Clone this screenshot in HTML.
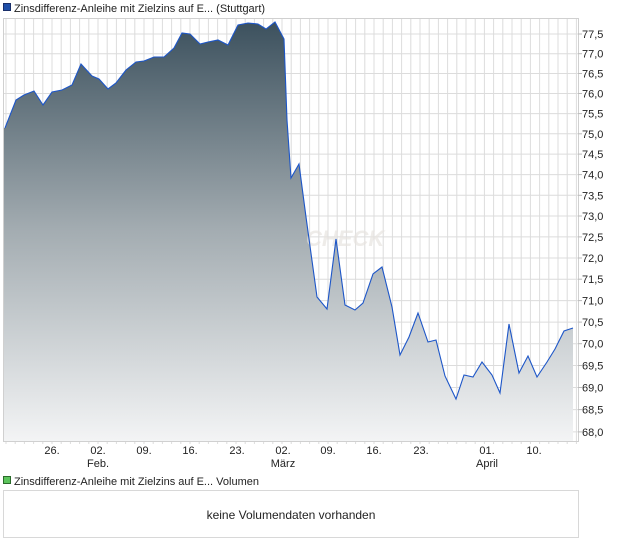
<!DOCTYPE html>
<html><head><meta charset="utf-8"><style>
html,body{margin:0;padding:0;background:#fff;}
svg{display:block;font-family:"Liberation Sans",Arial,sans-serif;}
</style></head><body>
<svg width="620" height="546" viewBox="0 0 620 546" xmlns="http://www.w3.org/2000/svg">
<defs>
<linearGradient id="g" x1="0" y1="18" x2="0" y2="441" gradientUnits="userSpaceOnUse">
<stop offset="0" stop-color="#3a4f5c"/>
<stop offset="0.5" stop-color="#a3acb1"/>
<stop offset="1" stop-color="#f3f4f5"/>
</linearGradient>
</defs>
<rect x="0" y="0" width="620" height="546" fill="#fff"/>
<!-- legend -->
<rect x="3.5" y="3.5" width="7" height="7" fill="#1f4fa8" stroke="#1a2f6a"/>
<text x="14" y="12" font-size="11" fill="#222">Zinsdifferenz-Anleihe mit Zielzins auf E... (Stuttgart)</text>
<!-- grid -->
<g stroke="#dcdcdc" stroke-width="1">
<path id="vg" d=""/>
</g>
<g id="grid" stroke="#dcdcdc" stroke-width="1"></g>
<!-- area -->
<path id="area" fill="url(#g)" d=""/>
<text x="306" y="246" font-size="22" font-weight="bold" font-style="italic" fill="#e8e4e0" opacity="0.7">CHECK</text>
<path id="line" fill="none" stroke="#1d56c8" stroke-width="1.1" d=""/>
<!-- frame -->
<rect x="3.5" y="18.5" width="575" height="423" fill="none" stroke="#d0d0d0"/>
<g id="yl" font-size="11" fill="#222"></g>
<g font-size="11" fill="#222" text-anchor="middle">
<text x="52" y="454">26.</text>
<text x="98" y="454">02.</text>
<text x="98" y="467">Feb.</text>
<text x="144" y="454">09.</text>
<text x="190" y="454">16.</text>
<text x="237" y="454">23.</text>
<text x="283" y="454">02.</text>
<text x="283" y="467">März</text>
<text x="328" y="454">09.</text>
<text x="374" y="454">16.</text>
<text x="421" y="454">23.</text>
<text x="487" y="454">01.</text>
<text x="487" y="467">April</text>
<text x="534" y="454">10.</text>
</g>
<!-- volume -->
<rect x="3.5" y="115.5" width="0" height="0" fill="none"/>
<rect x="3.5" y="476.5" width="7" height="7" fill="#5cc45c" stroke="#2a6a2a"/>
<text x="14" y="485" font-size="11" fill="#222">Zinsdifferenz-Anleihe mit Zielzins auf E... Volumen</text>
<rect x="3.5" y="490.5" width="575" height="47" fill="#fff" stroke="#d8d8d8"/>
<text x="291" y="519" font-size="12" fill="#222" text-anchor="middle">keine Volumendaten vorhanden</text>
<script>
(function(){
var ns="http://www.w3.org/2000/svg";
function Y(v){return 34+3043*Math.log(77.5/v);}
var g=document.getElementById("grid"),yl=document.getElementById("yl");
var d="";
for(var x=52-9.2*5;x<578;x+=9.2){if(x>4){d+="M"+x.toFixed(1)+" 19V441";}}
for(var v=68;v<=77.51;v+=0.5){var y=Y(v).toFixed(1);d+="M4 "+y+"H578";
var t=document.createElementNS(ns,"text");t.setAttribute("x","582");t.setAttribute("y",(+y+4).toFixed(1));t.textContent=v.toFixed(1).replace(".",",");yl.appendChild(t);
var tk=document.createElementNS(ns,"path");tk.setAttribute("d","M578 "+y+"H582");tk.setAttribute("stroke","#bbb");yl.appendChild(tk);}
for(var x=52-9.2*5;x<578;x+=9.2){if(x>4){d+="M"+x.toFixed(1)+" 441V444";}}
var p=document.createElementNS(ns,"path");p.setAttribute("d",d);g.appendChild(p);
var pts=[[5,128],[16,100],[24,95],[34,91],[43,105],[52,92],[62,90],[72,85],[81,64],[92,76],[99,79],[108,89],[116,83],[126,70],[136,62],[144,61],[154,57],[164,57],[174,48],[182,33],[190,34],[200,44],[208,42],[218,40],[228,45],[238,25],[248,23],[258,24],[266,29],[275,22],[284,39],[287,120],[291,178],[299,164],[306,217],[317,297],[327,309],[336,239],[345,305],[355,310],[363,303],[373,274],[382,267],[392,307],[400,355],[409,337],[418,313],[428,342],[436,340],[445,376],[456,399],[464,375],[473,377],[482,362],[492,375],[500,393],[509,324],[519,373],[528,356],[537,377],[547,362],[555,349],[564,331],[573,328]];
var l="M"+pts.map(function(q){return q[0]+" "+q[1];}).join("L");
document.getElementById("line").setAttribute("d",l);
document.getElementById("area").setAttribute("d","M4 441L4 128"+l.replace(/^M/,"L")+"L573 441Z");
})();
</script>
</svg>
</body></html>
